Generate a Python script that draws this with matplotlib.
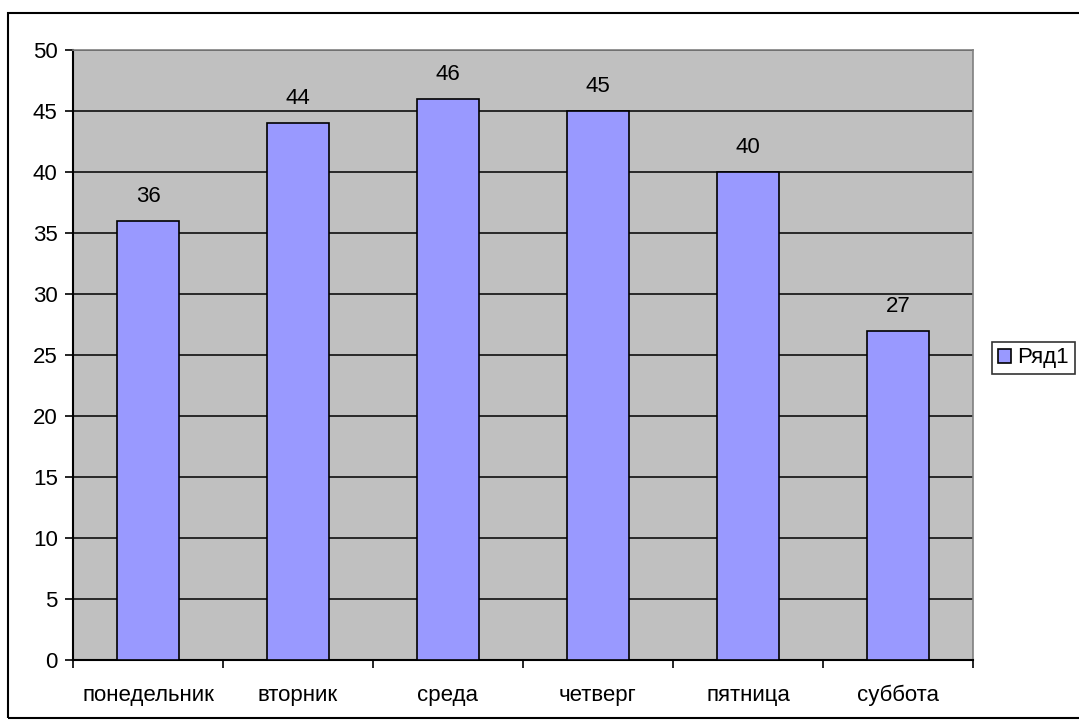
import matplotlib.pyplot as plt
from matplotlib.patches import Rectangle

# === Data === #
days = ["понедельник", "вторник", "среда", "четверг", "пятница", "суббота"]
values = [36, 44, 46, 45, 40, 27]
series_name = "Ряд1"

plt.rcParams['font.family'] = ['Liberation Sans', 'DejaVu Sans']
FS = 16

fig = plt.figure(figsize=(10.79, 7.24), dpi=100)
ax = fig.add_axes([73 / 1079, 1 - 660 / 724, 900 / 1079, 610 / 724])

# outer chart border
fig.patches.append(Rectangle((8 / 1079, 1 - 718 / 724), 1.2, 705 / 724,
                             transform=fig.transFigure, fill=False,
                             edgecolor='black', linewidth=1.5, zorder=0))

ax.set_facecolor('#C0C0C0')
x = range(len(days))
bars = ax.bar(x, values, width=0.41, color='#9999FF', edgecolor='black',
              linewidth=1.2, zorder=3, label=series_name)

for xi, v in zip(x, values):
    ax.annotate(str(v), (xi, v), xytext=(0, 10), textcoords='offset points',
                ha='center', va='bottom', fontsize=FS)

ax.set_ylim(0, 50)
ax.set_xlim(-0.5, len(days) - 0.5)
ax.set_yticks(range(0, 51, 5))
ax.yaxis.grid(True, color='black', linewidth=1.1, zorder=1)
ax.set_axisbelow(True)

# category boundaries ticks, labels centered
ax.set_xticks([i - 0.5 for i in range(len(days) + 1)])
ax.set_xticklabels([])
ax.set_xticks(list(x), minor=True)
ax.set_xticklabels(days, minor=True)
ax.tick_params(axis='x', which='major', direction='out', length=6, width=1.2)
ax.tick_params(axis='x', which='minor', length=0, pad=18, labelsize=FS)
ax.tick_params(axis='y', direction='out', length=6, width=1.2, labelsize=FS, pad=5)

for s in ['left', 'bottom']:
    ax.spines[s].set_color('black')
    ax.spines[s].set_linewidth(1.5)
for s in ['top', 'right']:
    ax.spines[s].set_color('#808080')
    ax.spines[s].set_linewidth(1.2)

leg = ax.legend(loc='center left', bbox_to_anchor=(992 / 1079, 1 - 358 / 724),
                bbox_transform=fig.transFigure, fontsize=FS, frameon=True,
                fancybox=False, edgecolor='black', handlelength=0.6,
                handleheight=0.6, handletextpad=0.3, borderpad=0.25,
                borderaxespad=0)
leg.get_frame().set_linewidth(1.2)

fig.savefig("out.png", dpi=100)
